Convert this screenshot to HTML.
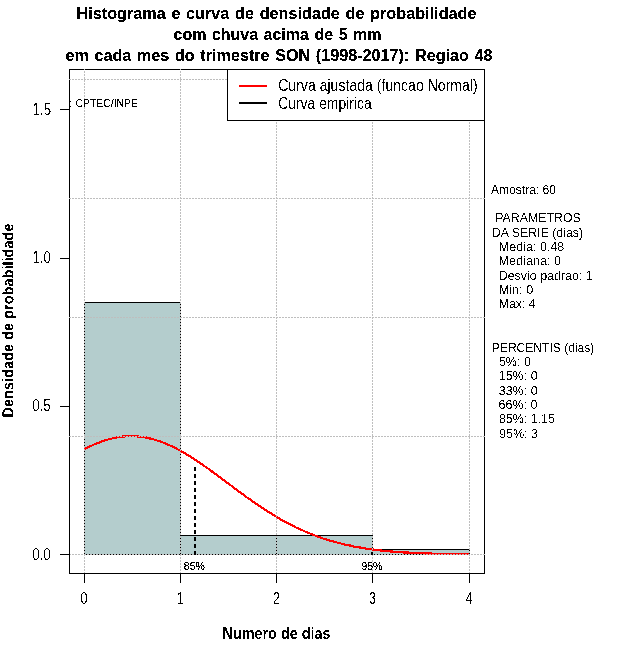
<!DOCTYPE html>
<html lang="pt"><head><meta charset="utf-8"><title>Histograma e curva de densidade de probabilidade</title>
<style>
html,body{margin:0;padding:0;background:#fff;}
body{width:640px;height:660px;overflow:hidden;}
svg{display:block;}
text{font-family:"Liberation Sans",sans-serif;fill:#000;}
.g{text-rendering:geometricPrecision;}
.s{}
.b{font-weight:bold;}
.ln{shape-rendering:crispEdges;}
</style></head><body>
<svg width="640" height="660" viewBox="0 0 640 660">
<rect x="0" y="0" width="640" height="660" fill="#fff"/>
<defs><filter id="bw" filterUnits="userSpaceOnUse" x="0" y="0" width="640" height="660" color-interpolation-filters="sRGB"><feComponentTransfer><feFuncA type="discrete" tableValues="0 0 1 1 1"/></feComponentTransfer></filter><filter id="bw2" filterUnits="userSpaceOnUse" x="0" y="0" width="640" height="660" color-interpolation-filters="sRGB"><feComponentTransfer><feFuncA type="discrete" tableValues="0 1"/></feComponentTransfer></filter></defs>
<g class="ln">
<rect x="84" y="302" width="97" height="253" fill="#B4CDCD"/>
<rect x="180" y="535" width="97" height="20" fill="#B4CDCD"/>
<rect x="276" y="535" width="97" height="20" fill="#B4CDCD"/>
<rect x="372" y="549" width="98" height="6" fill="#B4CDCD"/>
<rect x="84.5" y="302.5" width="96" height="252" fill="none" stroke="#000" stroke-width="1"/>
<rect x="180.5" y="535.5" width="96" height="19" fill="none" stroke="#000" stroke-width="1"/>
<rect x="276.5" y="535.5" width="96" height="19" fill="none" stroke="#000" stroke-width="1"/>
<rect x="372.5" y="549.5" width="97" height="5" fill="none" stroke="#000" stroke-width="1"/>
</g>
<g filter="url(#bw)"><polyline points="84.5,449.2 88.3,447.2 92.2,445.4 96.0,443.7 99.9,442.2 103.7,440.8 107.6,439.6 111.4,438.6 115.3,437.7 119.1,437.0 123.0,436.6 126.8,436.3 130.7,436.1 134.5,436.2 138.3,436.5 142.2,436.9 146.0,437.6 149.9,438.4 153.7,439.4 157.6,440.6 161.4,441.9 165.3,443.4 169.1,445.1 173.0,446.9 176.8,448.9 180.7,450.9 184.5,453.1 188.3,455.4 192.2,457.9 196.0,460.4 199.9,463.0 203.7,465.6 207.6,468.3 211.4,471.1 215.3,473.9 219.1,476.7 223.0,479.6 226.8,482.5 230.6,485.3 234.5,488.2 238.3,491.1 242.2,493.9 246.0,496.7 249.9,499.4 253.7,502.1 257.6,504.8 261.4,507.3 265.3,509.9 269.1,512.3 273.0,514.7 276.8,517.0 280.6,519.3 284.5,521.4 288.3,523.5 292.2,525.5 296.0,527.4 299.9,529.2 303.7,530.9 307.6,532.6 311.4,534.2 315.3,535.6 319.1,537.0 323.0,538.4 326.8,539.6 330.6,540.8 334.5,541.9 338.3,542.9 342.2,543.9 346.0,544.8 349.9,545.6 353.7,546.4 357.6,547.1 361.4,547.8 365.3,548.4 369.1,549.0 373.0,549.5 376.8,550.0 380.6,550.4 384.5,550.8 388.3,551.2 392.2,551.5 396.0,551.9 399.9,552.1 403.7,552.4 407.6,552.6 411.4,552.8 415.3,553.0 419.1,553.2 422.9,553.3 426.8,553.5 430.6,553.6 434.5,553.7 438.3,553.8 442.2,553.9 446.0,553.9 449.9,554.0 453.7,554.0 457.6,554.0 461.4,554.0 465.3,554.0 469.1,554.0" fill="none" stroke="#FF0000" stroke-width="2" stroke-linejoin="round"/></g>
<g class="ln">
<rect x="69.5" y="69.5" width="415" height="504" fill="none" stroke="#000" stroke-width="1"/>
<line x1="84.5" y1="574" x2="84.5" y2="69" stroke="#BEBEBE" stroke-width="1" stroke-dasharray="2 1"/>
<line x1="180.5" y1="574" x2="180.5" y2="69" stroke="#BEBEBE" stroke-width="1" stroke-dasharray="2 1"/>
<line x1="276.5" y1="574" x2="276.5" y2="69" stroke="#BEBEBE" stroke-width="1" stroke-dasharray="2 1"/>
<line x1="372.5" y1="574" x2="372.5" y2="69" stroke="#BEBEBE" stroke-width="1" stroke-dasharray="2 1"/>
<line x1="469.5" y1="574" x2="469.5" y2="69" stroke="#BEBEBE" stroke-width="1" stroke-dasharray="2 1"/>
<line x1="69" y1="79.5" x2="485" y2="79.5" stroke="#BEBEBE" stroke-width="1" stroke-dasharray="2 1"/>
<line x1="69" y1="198.5" x2="485" y2="198.5" stroke="#BEBEBE" stroke-width="1" stroke-dasharray="2 1"/>
<line x1="69" y1="317.5" x2="485" y2="317.5" stroke="#BEBEBE" stroke-width="1" stroke-dasharray="2 1"/>
<line x1="69" y1="436.5" x2="485" y2="436.5" stroke="#BEBEBE" stroke-width="1" stroke-dasharray="2 1"/>
<line x1="69" y1="554.5" x2="485" y2="554.5" stroke="#BEBEBE" stroke-width="1" stroke-dasharray="2 1"/>
</g>
<g class="ln">
<line x1="195" y1="467" x2="195" y2="555" stroke="#000" stroke-width="2" stroke-dasharray="4 3"/>
<rect x="371" y="552" width="2" height="3" fill="#000"/>
</g>
<g class="ln">
<line x1="84" y1="573.5" x2="470" y2="573.5" stroke="#000"/>
<line x1="84.5" y1="573" x2="84.5" y2="583" stroke="#000" stroke-width="1"/>
<line x1="180.5" y1="573" x2="180.5" y2="583" stroke="#000" stroke-width="1"/>
<line x1="276.5" y1="573" x2="276.5" y2="583" stroke="#000" stroke-width="1"/>
<line x1="372.5" y1="573" x2="372.5" y2="583" stroke="#000" stroke-width="1"/>
<line x1="469.5" y1="573" x2="469.5" y2="583" stroke="#000" stroke-width="1"/>
<line x1="60" y1="109.5" x2="70" y2="109.5" stroke="#000" stroke-width="1"/>
<line x1="60" y1="258.5" x2="70" y2="258.5" stroke="#000" stroke-width="1"/>
<line x1="60" y1="406.5" x2="70" y2="406.5" stroke="#000" stroke-width="1"/>
<line x1="60" y1="554.5" x2="70" y2="554.5" stroke="#000" stroke-width="1"/>
<rect x="70" y="101" width="1" height="1" fill="#000"/><rect x="70" y="106" width="1" height="1" fill="#000"/>
<rect x="227.5" y="69.5" width="257" height="51" fill="#fff" stroke="#000" stroke-width="1"/>
<rect x="239" y="85" width="28" height="2" fill="#FF0000"/>
<rect x="239" y="102" width="28" height="2" fill="#000"/>
</g>
<g filter="url(#bw)">
<text x="76.5" y="19" font-size="17" class="b" textLength="400" lengthAdjust="spacingAndGlyphs" style="word-spacing:1.2px" xml:space="preserve">Histograma e curva de densidade de probabilidade</text>
<text x="173.5" y="40" font-size="17" class="b" textLength="208" lengthAdjust="spacingAndGlyphs" style="word-spacing:1.2px" xml:space="preserve">com chuva acima de 5 mm</text>
<text x="65.5" y="61" font-size="17" class="b" textLength="427" lengthAdjust="spacingAndGlyphs" style="word-spacing:1.2px" xml:space="preserve">em cada mes do trimestre SON (1998-2017): Regiao 48</text>
<text x="75.5" y="107" font-size="11.6" class="s" textLength="62.5" lengthAdjust="spacingAndGlyphs" xml:space="preserve">CPTEC/INPE</text>
<text x="183.8" y="570" font-size="11.6" class="s" textLength="21" lengthAdjust="spacingAndGlyphs" xml:space="preserve">85%</text>
<text x="361.4" y="570" font-size="11.6" class="s" textLength="21" lengthAdjust="spacingAndGlyphs" xml:space="preserve">95%</text>
</g><g filter="url(#bw2)">
<text x="278.2" y="91" font-size="16" textLength="199.5" lengthAdjust="spacingAndGlyphs" xml:space="preserve">Curva ajustada (funcao Normal)</text>
<text x="278.2" y="109" font-size="16" textLength="93.5" lengthAdjust="spacingAndGlyphs" xml:space="preserve">Curva empirica</text>
<text x="84.1" y="604" font-size="16" text-anchor="middle" textLength="7" lengthAdjust="spacingAndGlyphs" xml:space="preserve">0</text>
<text x="180.3" y="604" font-size="16" text-anchor="middle" textLength="7" lengthAdjust="spacingAndGlyphs" xml:space="preserve">1</text>
<text x="276.5" y="604" font-size="16" text-anchor="middle" textLength="7" lengthAdjust="spacingAndGlyphs" xml:space="preserve">2</text>
<text x="372.5" y="604" font-size="16" text-anchor="middle" textLength="7" lengthAdjust="spacingAndGlyphs" xml:space="preserve">3</text>
<text x="469.3" y="604" font-size="16" text-anchor="middle" textLength="7" lengthAdjust="spacingAndGlyphs" xml:space="preserve">4</text>
<text x="51.1" y="115" font-size="16" text-anchor="end" textLength="18.5" lengthAdjust="spacingAndGlyphs" xml:space="preserve">1.5</text>
<text x="50.9" y="263" font-size="16" text-anchor="end" textLength="18.5" lengthAdjust="spacingAndGlyphs" xml:space="preserve">1.0</text>
<text x="50.7" y="411" font-size="16" text-anchor="end" textLength="18.5" lengthAdjust="spacingAndGlyphs" xml:space="preserve">0.5</text>
<text x="50.7" y="560" font-size="16" text-anchor="end" textLength="18.5" lengthAdjust="spacingAndGlyphs" xml:space="preserve">0.0</text>
<text x="222.5" y="639" font-size="16" class="b" textLength="108" lengthAdjust="spacingAndGlyphs" xml:space="preserve">Numero de dias</text>
<text transform="translate(13.4,417.5) rotate(-90)" font-size="16" class="b g" textLength="194" lengthAdjust="spacingAndGlyphs">Densidade de probabilidade</text>
<text x="491.0" y="194" font-size="13" textLength="65" lengthAdjust="spacingAndGlyphs" xml:space="preserve">Amostra: 60</text>
<text x="495.3" y="222" font-size="13" textLength="85.5" lengthAdjust="spacingAndGlyphs" xml:space="preserve">PARAMETROS</text>
<text x="491.7" y="236.5" font-size="13" textLength="91.5" lengthAdjust="spacingAndGlyphs" xml:space="preserve">DA SERIE (dias)</text>
<text x="498.8" y="251" font-size="13" textLength="65.5" lengthAdjust="spacingAndGlyphs" xml:space="preserve">Media: 0.48</text>
<text x="498.5" y="265.3" font-size="13" textLength="62.5" lengthAdjust="spacingAndGlyphs" xml:space="preserve">Mediana: 0</text>
<text x="498.7" y="279.6" font-size="13" textLength="94" lengthAdjust="spacingAndGlyphs" xml:space="preserve">Desvio padrao: 1</text>
<text x="498.7" y="294" font-size="13" textLength="34.5" lengthAdjust="spacingAndGlyphs" xml:space="preserve">Min: 0</text>
<text x="498.7" y="308.3" font-size="13" textLength="37" lengthAdjust="spacingAndGlyphs" xml:space="preserve">Max: 4</text>
<text x="491.8" y="351.7" font-size="13" textLength="102.5" lengthAdjust="spacingAndGlyphs" xml:space="preserve">PERCENTIS (dias)</text>
<text x="498.9" y="366" font-size="13" textLength="32" lengthAdjust="spacingAndGlyphs" xml:space="preserve">5%: 0</text>
<text x="498.7" y="380.3" font-size="13" textLength="39" lengthAdjust="spacingAndGlyphs" xml:space="preserve">15%: 0</text>
<text x="498.7" y="394.6" font-size="13" textLength="39" lengthAdjust="spacingAndGlyphs" xml:space="preserve">33%: 0</text>
<text x="498.6" y="409" font-size="13" textLength="39" lengthAdjust="spacingAndGlyphs" xml:space="preserve">66%: 0</text>
<text x="498.9" y="423.3" font-size="13" textLength="56" lengthAdjust="spacingAndGlyphs" xml:space="preserve">85%: 1.15</text>
<text x="499" y="437.6" font-size="13" textLength="39" lengthAdjust="spacingAndGlyphs" xml:space="preserve">95%: 3</text>
</g>
</svg></body></html>
